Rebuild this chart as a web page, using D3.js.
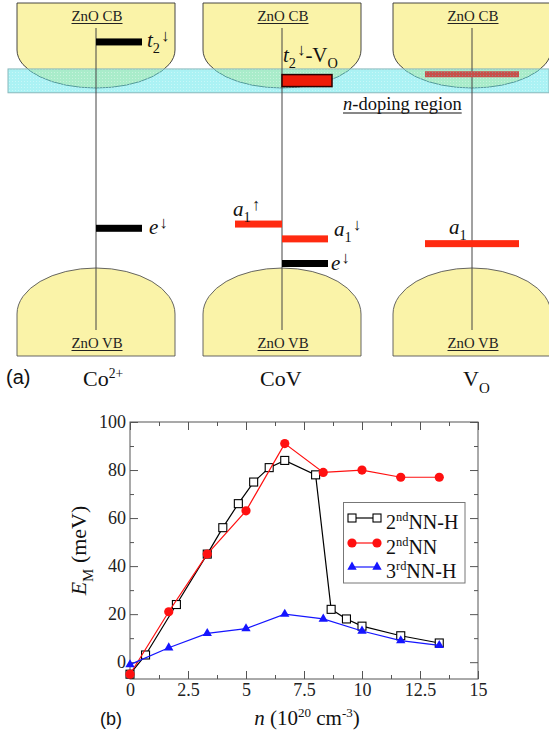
<!DOCTYPE html>
<html><head><meta charset="utf-8">
<script src="https://cdn.jsdelivr.net/npm/d3@7"></script>
<style>
body{margin:0;background:#fff} svg{display:block}
text{font-family:"Liberation Serif","Times New Roman",serif}
text.sans{font-family:"Liberation Sans",Arial,sans-serif}
</style>
</head><body><svg id="fig" width="549" height="736"></svg>
<script>
// ---------- panel (a): defect levels relative to the ZnO band edges (eV above VBM)
const defects = ["Co2+", "CoV", "VO"];
const bandEdges = [0, 3.4];          // VBM, CBM
const dopingRegion = [3.31, 3.76];   // n-doping window
// origin: "Co" = Co d states (black), "VO" = vacancy states (red)
const levels = [
  {id: "t2dnCo", defect: "Co2+", side: "right", E: 4.27, origin: "Co"},
  {id: "ednCo",  defect: "Co2+", side: "right", E: 0.75, origin: "Co"},
  {id: "t2VO",   defect: "CoV",  side: "right", E: 3.54, origin: "resonant"},
  {id: "a1up",   defect: "CoV",  side: "left",  E: 0.83, origin: "VO"},
  {id: "a1dn",   defect: "CoV",  side: "right", E: 0.55, origin: "VO"},
  {id: "ednCoV", defect: "CoV",  side: "right", E: 0.085, origin: "Co"},
  {id: "a1",     defect: "VO",   side: "both",  E: 0.46, origin: "VO"},
  {id: "vRes",   defect: "VO",   side: "both",  E: 3.66, origin: "doped"}
];
const levelText = {
  t2dnCo: [["t","i"],["2","sub"],["↓","arrow"]],
  ednCo:  [["e","i"],["↓","arrow"]],
  t2VO:   [["t","i"],["2","sub"],["↓","arrow"],["-V",""],["O","sub"]],
  a1up:   [["a","i"],["1","sub"],["↑","arrow"]],
  a1dn:   [["a","i"],["1","sub"],["↓","arrow"]],
  ednCoV: [["e","i"],["↓","arrow"]],
  a1:     [["a","i"],["1","sub"]]
};
const defectText = {
  "Co2+": [["Co",""],["2+","sup"]],
  "CoV":  [["CoV",""]],
  "VO":   [["V",""],["O","sub"]]
};

// ---------- panel (b): magnetic energy vs carrier density
const nDense = [0, 0.67, 2.0, 3.33, 4.0, 4.67, 5.33, 6.0, 6.67, 8.0, 8.67, 9.33, 10, 11.67, 13.33];
const em2ndNNH = [-5, 3, 24, 45, 56, 66, 75, 81, 84, 78, 22, 18, 15, 11, 8];
const nCoarse = [0, 1.67, 3.33, 5, 6.67, 8.33, 10, 11.67, 13.33];
const em2ndNN = [-5, 21, 45, 63, 91, 79, 80, 77, 77];
const em3rdNNH = [-1, 6, 12, 14, 20, 18, 13, 9, 7];
const xTicks = [0, 2.5, 5, 7.5, 10, 12.5, 15];
const xTickLabels = ["0", "2.5", "5", "7.5", "10", "12.5", "15"];
const yTicks = [0, 20, 40, 60, 80, 100];
const seriesNames = [
  [["2",""],["nd","sup"],["NN-H",""]],
  [["2",""],["nd","sup"],["NN",""]],
  [["3",""],["rd","sup"],["NN-H",""]]
];

const svg = d3.select("#fig");

// rich text with italics, sub- and superscripts and spin arrows
function rich(sel, parts, size) {
  let shift = 0;
  parts.forEach(([t, s]) => {
    const ts = sel.append("tspan").text(t);
    let target = 0, fs = size;
    if (s === "sub") { target = size * 0.3; fs = size * 0.68; }
    if (s === "sup") { target = -size * 0.38; fs = size * 0.62; }
    if (s === "arrow") { target = -size * 0.3; fs = size * 0.8; ts.attr("dx", 1); }
    if (s === "i") ts.style("font-style", "italic");
    ts.style("font-size", fs + "px");
    if (target - shift !== 0) ts.attr("dy", target - shift);
    shift = target;
  });
  return sel;
}

// ================= panel (a) =================
const defs = svg.append("defs");
const dots = defs.append("pattern").attr("id", "dots").attr("width", 3).attr("height", 3)
  .attr("patternUnits", "userSpaceOnUse");
dots.append("rect").attr("width", 1).attr("height", 1).attr("fill", "#fff").attr("opacity", 0.35);
const hatch = defs.append("pattern").attr("id", "hatch").attr("width", 3).attr("height", 3)
  .attr("patternUnits", "userSpaceOnUse");
hatch.append("rect").attr("width", 3).attr("height", 3).attr("fill", "#c8504a");
hatch.append("rect").attr("width", 1).attr("height", 1).attr("fill", "#9a8a80");

const colX = d3.scaleOrdinal().domain(defects).range([96, 282, 472]);
const yE = d3.scaleLinear().domain(bandEdges).range([268, 88]);
const bandHalf = 79, levelHalf = 46;
const yellow = "#faf3a8", edge = "#555";

const bandsA = svg.append("g");
// conduction bands (top, rounded towards the gap)
const cbPath = c => {
  const L = c - bandHalf, R = c + bandHalf, yb = yE(bandEdges[1]), ry = 38;
  return `M${L},3 V${yb - ry} A${bandHalf},${ry} 0 0 0 ${R},${yb - ry} V3 Z`;
};
// valence bands (bottom, dome shaped)
const vbPath = c => {
  const L = c - bandHalf, R = c + bandHalf, yt = yE(bandEdges[0]), ry = 46;
  return `M${L},356 V${yt + ry} A${bandHalf},${ry} 0 0 1 ${R},${yt + ry} V356 Z`;
};
bandsA.selectAll(".cbfill").data(defects).join("path").attr("d", d => cbPath(colX(d)))
  .attr("fill", yellow);
bandsA.selectAll(".vb").data(defects).join("path").attr("d", d => vbPath(colX(d)))
  .attr("fill", yellow).attr("stroke", edge).attr("stroke-width", 0.9);

// n-doping window across the figure
const band = svg.append("g");
band.append("rect").attr("x", 8).attr("y", yE(dopingRegion[1]))
  .attr("width", 549 - 8).attr("height", yE(dopingRegion[0]) - yE(dopingRegion[1]))
  .attr("fill", "#5ee6ea").attr("opacity", 0.52);
band.append("rect").attr("x", 8).attr("y", yE(dopingRegion[1]))
  .attr("width", 549 - 8).attr("height", yE(dopingRegion[0]) - yE(dopingRegion[1]))
  .attr("fill", "url(#dots)").attr("stroke", "#8ab8bc").attr("stroke-width", 1);

bandsA.append("g").selectAll("path").data(defects).join("path").attr("d", d => cbPath(colX(d)))
  .attr("fill", "none").attr("stroke", "#333").attr("stroke-width", 0.9);

// band labels
defects.forEach(d => {
  const c = colX(d);
  [["ZnO CB", 21], ["ZnO VB", 348]].forEach(([t, y]) => {
    const tx = svg.append("text").attr("x", c + 1).attr("y", y).attr("text-anchor", "middle")
      .style("font-size", "14px").attr("textLength", 51).attr("lengthAdjust", "spacingAndGlyphs")
      .attr("fill", "#222").text(t);
    const w = 51;
    svg.append("line").attr("x1", c + 1 - w / 2).attr("x2", c + 1 + w / 2)
      .attr("y1", y + 2.5).attr("y2", y + 2.5).attr("stroke", "#222").attr("stroke-width", 1);
  });
  svg.append("line").attr("x1", c).attr("x2", c).attr("y1", 28).attr("y2", 330)
    .attr("stroke", "#444").attr("stroke-width", 1);
});

// n-doping region label
const nd = svg.append("text").attr("x", 343).attr("y", 110).style("font-size", "18.5px").attr("fill", "#111");
rich(nd, [["n","i"],["-doping region",""]], 18.5);
svg.append("line").attr("x1", 343).attr("x2", 343 + nd.node().getComputedTextLength())
  .attr("y1", 113).attr("y2", 113).attr("stroke", "#111").attr("stroke-width", 1);

// defect levels
const levelX = d => {
  const c = colX(d.defect);
  if (d.side === "right") return [c, c + levelHalf];
  if (d.side === "left") return [c - levelHalf - 1, c];
  return [c - levelHalf - 1, c + levelHalf + 1];
};
const levelStyle = {
  Co: {fill: "#000", h: 7, stroke: "none"},
  VO: {fill: "#ff2a10", h: 7, stroke: "none"},
  resonant: {fill: "#ee1c08", h: 12, stroke: "#2a0000"},
  doped: {fill: "url(#hatch)", h: 6, stroke: "none"}
};
svg.append("g").selectAll("rect").data(levels).join("rect")
  .attr("x", d => levelX(d)[0]).attr("width", d => levelX(d)[1] - levelX(d)[0] + (d.origin === "resonant" ? 4 : 0))
  .attr("y", d => yE(d.E) - levelStyle[d.origin].h / 2).attr("height", d => levelStyle[d.origin].h)
  .attr("fill", d => levelStyle[d.origin].fill)
  .attr("stroke", d => levelStyle[d.origin].stroke).attr("stroke-width", 1.5);

// level labels: where each sits relative to its bar
const labelPlace = {
  t2dnCo: {ref: "end", dx: 5, dy: 5},
  ednCo:  {ref: "end", dx: 7, dy: 6},
  t2VO:   {ref: "start", dx: 1, dy: -19},
  a1up:   {ref: "start", dx: -2, dy: -8},
  a1dn:   {ref: "end", dx: 6, dy: -3},
  ednCoV: {ref: "end", dx: 3, dy: 6},
  a1:     {ref: "mid", dx: -23, dy: -10}
};
levels.filter(d => levelText[d.id]).forEach(d => {
  const p = labelPlace[d.id], [x0, x1] = levelX(d);
  const x = (p.ref === "end" ? x1 : p.ref === "start" ? x0 : (x0 + x1) / 2) + p.dx;
  const t = svg.append("text").attr("x", x).attr("y", yE(d.E) + p.dy)
    .style("font-size", "21px").attr("fill", "#111");
  rich(t, levelText[d.id], 21);
});

// panel (a) captions
svg.append("text").attr("class", "sans").attr("x", 6).attr("y", 384).style("font-size", "20px")
  .attr("fill", "#111").text("(a)");
const capDx = {"Co2+": -13, "CoV": -22, "VO": -9};
defects.forEach(d => {
  const t = svg.append("text").attr("x", colX(d) + capDx[d]).attr("y", 386)
    .style("font-size", "22px").attr("fill", "#111");
  rich(t, defectText[d], 22);
});

// ================= panel (b) =================
const plot = {left: 130, right: 478, top: 422, bottom: 679};
const x = d3.scaleLinear().domain([0, 15]).range([plot.left, plot.right]);
const y = d3.scaleLinear().domain([-7, 100]).range([plot.bottom, plot.top]);
const axCol = "#555";

const gB = svg.append("g");
gB.append("rect").attr("x", plot.left).attr("y", plot.top)
  .attr("width", plot.right - plot.left).attr("height", plot.bottom - plot.top)
  .attr("fill", "#fff").attr("stroke", axCol).attr("stroke-width", 1);

const minorX = d3.range(1.25, 15, 2.5), minorY = d3.range(10, 100, 20);
function styleAxis(g) {
  g.select(".domain").remove();
  g.selectAll("line").attr("stroke", axCol);
  g.selectAll("text").style("font-family", "'Liberation Serif','Times New Roman',serif")
    .style("font-size", "18px").attr("fill", "#222");
}
gB.append("g").attr("transform", `translate(0,${plot.bottom})`)
  .call(d3.axisBottom(x).tickValues(xTicks).tickFormat((d, i) => xTickLabels[i]).tickSizeInner(-8).tickSizeOuter(0).tickPadding(4)).call(styleAxis);
gB.append("g").attr("transform", `translate(0,${plot.bottom})`)
  .call(d3.axisBottom(x).tickValues(minorX).tickFormat("").tickSizeInner(-4).tickSizeOuter(0)).call(styleAxis);
gB.append("g").attr("transform", `translate(0,${plot.top})`)
  .call(d3.axisTop(x).tickValues(xTicks).tickFormat("").tickSizeInner(-8).tickSizeOuter(0)).call(styleAxis);
gB.append("g").attr("transform", `translate(0,${plot.top})`)
  .call(d3.axisTop(x).tickValues(minorX).tickFormat("").tickSizeInner(-4).tickSizeOuter(0)).call(styleAxis);
gB.append("g").attr("transform", `translate(${plot.left},0)`)
  .call(d3.axisLeft(y).tickValues(yTicks).tickFormat(d3.format("d")).tickSizeInner(-8).tickSizeOuter(0).tickPadding(4)).call(styleAxis);
gB.append("g").attr("transform", `translate(${plot.left},0)`)
  .call(d3.axisLeft(y).tickValues(minorY).tickFormat("").tickSizeInner(-4).tickSizeOuter(0)).call(styleAxis);
gB.append("g").attr("transform", `translate(${plot.right},0)`)
  .call(d3.axisRight(y).tickValues(yTicks).tickFormat("").tickSizeInner(-8).tickSizeOuter(0)).call(styleAxis);
gB.append("g").attr("transform", `translate(${plot.right},0)`)
  .call(d3.axisRight(y).tickValues(minorY).tickFormat("").tickSizeInner(-4).tickSizeOuter(0)).call(styleAxis);

const series = [
  {xs: nDense, ys: em2ndNNH, color: "#000", marker: "square"},
  {xs: nCoarse, ys: em2ndNN, color: "#ff1010", marker: "circle"},
  {xs: nCoarse, ys: em3rdNNH, color: "#1515ff", marker: "triangle"}
];
const line = d3.line().x(d => x(d[0])).y(d => y(d[1]));
function marker(g, kind, color, px, py) {
  if (kind === "square") {
    g.append("rect").attr("x", px - 4).attr("y", py - 4).attr("width", 8).attr("height", 8)
      .attr("fill", "#fff").attr("stroke", color).attr("stroke-width", 1.1);
  } else if (kind === "circle") {
    g.append("circle").attr("cx", px).attr("cy", py).attr("r", 4.6).attr("fill", color);
  } else {
    g.append("path").attr("d", d3.symbol(d3.symbolTriangle, 38)())
      .attr("transform", `translate(${px},${py})`).attr("fill", color);
  }
}
series.forEach(s => {
  const pts = s.xs.map((v, i) => [v, s.ys[i]]);
  const g = gB.append("g");
  g.append("path").datum(pts).attr("d", line).attr("fill", "none")
    .attr("stroke", s.color).attr("stroke-width", 1.2);
  pts.forEach(p => marker(g, s.marker, s.color, x(p[0]), y(p[1])));
});

// legend
const lg = gB.append("g");
lg.append("rect").attr("x", 343.5).attr("y", 502.5).attr("width", 121.5).attr("height", 80.5)
  .attr("fill", "#fff").attr("stroke", "#777").attr("stroke-width", 1);
const rowY = [518, 543, 567];
series.forEach((s, i) => {
  const yy = rowY[i];
  lg.append("line").attr("x1", 352).attr("x2", 377).attr("y1", yy).attr("y2", yy)
    .attr("stroke", s.color).attr("stroke-width", 1.2);
  marker(lg, s.marker, s.color, 352, yy);
  marker(lg, s.marker, s.color, 377, yy);
  const t = lg.append("text").attr("x", 386).attr("y", yy + 11).style("font-size", "20px").attr("fill", "#111");
  rich(t, seriesNames[i], 20);
});

// axis titles
const yl = svg.append("text").attr("transform", `translate(86,${(plot.top + plot.bottom) / 2}) rotate(-90)`)
  .attr("text-anchor", "middle").style("font-size", "22px").attr("fill", "#111");
rich(yl, [["E","i"],["M","sub"],[" (meV)",""]], 22);
const xl = svg.append("text").attr("x", 307).attr("y", 725).attr("text-anchor", "middle")
  .style("font-size", "21px").attr("fill", "#111");
rich(xl, [["n","i"],[" (10",""],["20","sup"],[" cm",""],["-3","sup"],[")",""]], 21);
svg.append("text").attr("class", "sans").attr("x", 100).attr("y", 725).style("font-size", "18px")
  .attr("fill", "#111").text("(b)");
</script></body></html>
